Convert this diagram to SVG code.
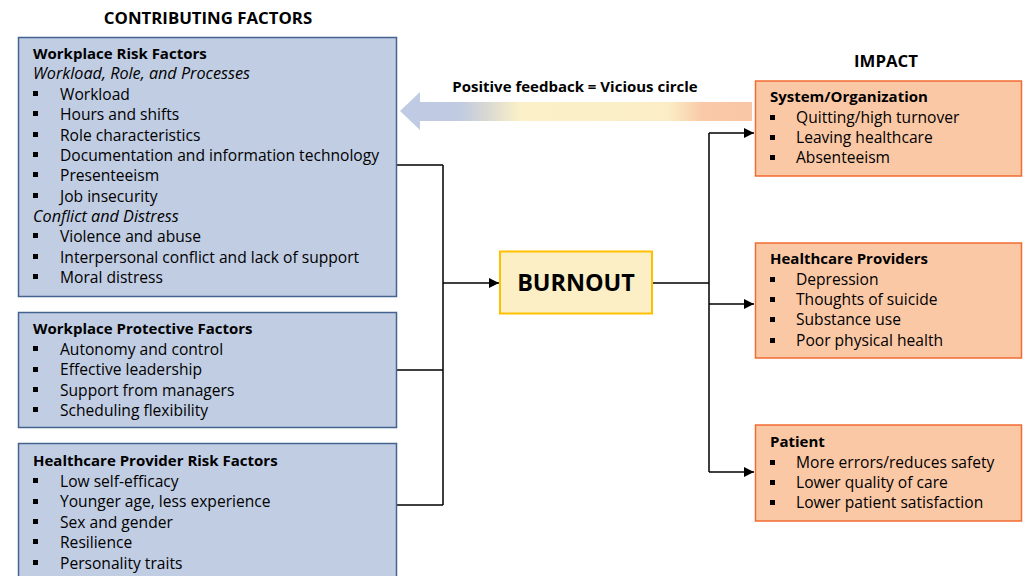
<svg xmlns="http://www.w3.org/2000/svg" width="1026" height="576" viewBox="0 0 1026 576">
  <style>
    text { font-family: "Open Sans", "Liberation Sans", sans-serif; fill: #000; }
    .hdr { font-size: 16.8px; font-weight: bold; }
    .ttl { font-size: 15px; font-weight: bold; }
    .itm { font-size: 15.6px; }
    .sub { font-size: 16.2px; font-style: italic; }
    .factor { fill: #C0CDE3; stroke: #44648F; stroke-width: 1.5; }
    .impact { fill: #FBC8A6; stroke: #F26B32; stroke-width: 1.5; }
    .bul { fill: #000; }
    .wire { fill: none; stroke: #000; stroke-width: 1.5; }
  </style>
  <defs>
    <marker id="arrow" viewBox="0 0 10 10" refX="10" refY="5" markerWidth="10" markerHeight="10" markerUnits="userSpaceOnUse" orient="auto">
      <path d="M0,0 L10,5 L0,10 z" fill="#000"/>
    </marker>
    <linearGradient id="loopGrad" gradientUnits="userSpaceOnUse" x1="400" y1="0" x2="752" y2="0">
      <stop offset="0" stop-color="#BFCBE4"/>
      <stop offset="0.17" stop-color="#C0CBE2"/>
      <stop offset="0.25" stop-color="#DAD9D2"/>
      <stop offset="0.34" stop-color="#FBF0C8"/>
      <stop offset="0.76" stop-color="#FBEEC6"/>
      <stop offset="0.86" stop-color="#F9C9A8"/>
      <stop offset="1" stop-color="#F9C6A6"/>
    </linearGradient>
  </defs>

  <!-- column headings -->
  <text class="hdr" x="208" y="24" text-anchor="middle">CONTRIBUTING FACTORS</text>
  <text class="hdr" x="886" y="67" text-anchor="middle">IMPACT</text>

  <!-- feedback loop arrow -->
  <g id="feedback">
    <path d="M752,102 L420,102 L420,92 L400,111 L420,130 L420,121 L752,121 z" fill="url(#loopGrad)"/>
    <text class="ttl" x="575" y="92" text-anchor="middle">Positive feedback = Vicious circle</text>
  </g>

  <!-- connectors -->
  <g id="connectors">
    <path class="wire" d="M397,165 H443 M397,370 H443 M397,505 H443 M443,165 V505"/>
    <path class="wire" d="M443,283 H499" marker-end="url(#arrow)"/>
    <path class="wire" d="M652,283 H709 M709,133 V472"/>
    <path class="wire" d="M709,133 H754" marker-end="url(#arrow)"/>
    <path class="wire" d="M709,304 H754" marker-end="url(#arrow)"/>
    <path class="wire" d="M709,472 H754" marker-end="url(#arrow)"/>
  </g>

  <!-- contributing factor boxes -->
  <g id="workplace-risk">
    <rect class="factor" x="18.5" y="37.5" width="378" height="259"/>
    <text class="ttl" x="33" y="59">Workplace Risk Factors</text>
    <text class="sub" x="33" y="79">Workload, Role, and Processes</text>
    <g class="bul">
      <rect x="33" y="91" width="5" height="5"/>
      <rect x="33" y="111" width="5" height="5"/>
      <rect x="33" y="132" width="5" height="5"/>
      <rect x="33" y="152" width="5" height="5"/>
      <rect x="33" y="172" width="5" height="5"/>
      <rect x="33" y="193" width="5" height="5"/>
      <rect x="33" y="233" width="5" height="5"/>
      <rect x="33" y="254" width="5" height="5"/>
      <rect x="33" y="274" width="5" height="5"/>
    </g>
    <text class="itm" x="60" y="100">Workload</text>
    <text class="itm" x="60" y="120">Hours and shifts</text>
    <text class="itm" x="60" y="141">Role characteristics</text>
    <text class="itm" x="60" y="161">Documentation and information technology</text>
    <text class="itm" x="60" y="181">Presenteeism</text>
    <text class="itm" x="60" y="202">Job insecurity</text>
    <text class="sub" x="33" y="222">Conflict and Distress</text>
    <text class="itm" x="60" y="242">Violence and abuse</text>
    <text class="itm" x="60" y="263">Interpersonal conflict and lack of support</text>
    <text class="itm" x="60" y="283">Moral distress</text>
  </g>

  <g id="workplace-protective">
    <rect class="factor" x="18.5" y="312.5" width="378" height="115"/>
    <text class="ttl" x="33" y="334">Workplace Protective Factors</text>
    <g class="bul">
      <rect x="33" y="346" width="5" height="5"/>
      <rect x="33" y="367" width="5" height="5"/>
      <rect x="33" y="387" width="5" height="5"/>
      <rect x="33" y="407" width="5" height="5"/>
    </g>
    <text class="itm" x="60" y="355">Autonomy and control</text>
    <text class="itm" x="60" y="375">Effective leadership</text>
    <text class="itm" x="60" y="396">Support from managers</text>
    <text class="itm" x="60" y="416">Scheduling flexibility</text>
  </g>

  <g id="provider-risk">
    <rect class="factor" x="18.5" y="443.5" width="378" height="140"/>
    <text class="ttl" x="33" y="466">Healthcare Provider Risk Factors</text>
    <g class="bul">
      <rect x="33" y="478" width="5" height="5"/>
      <rect x="33" y="499" width="5" height="5"/>
      <rect x="33" y="519" width="5" height="5"/>
      <rect x="33" y="539" width="5" height="5"/>
      <rect x="33" y="560" width="5" height="5"/>
    </g>
    <text class="itm" x="60" y="487">Low self-efficacy</text>
    <text class="itm" x="60" y="507">Younger age, less experience</text>
    <text class="itm" x="60" y="528">Sex and gender</text>
    <text class="itm" x="60" y="548">Resilience</text>
    <text class="itm" x="60" y="569">Personality traits</text>
  </g>

  <!-- central node -->
  <g id="burnout">
    <rect x="500" y="251.5" width="152" height="62" fill="#FCEFC6" stroke="#FFC000" stroke-width="2"/>
    <text x="576" y="291" text-anchor="middle" style="font-size:23.4px;font-weight:bold">BURNOUT</text>
  </g>

  <!-- impact boxes -->
  <g id="system-organization">
    <rect class="impact" x="755.5" y="81" width="266" height="95"/>
    <text class="ttl" x="770" y="102">System/Organization</text>
    <g class="bul">
      <rect x="770" y="115" width="5" height="5"/>
      <rect x="770" y="135" width="5" height="5"/>
      <rect x="770" y="155" width="5" height="5"/>
    </g>
    <text class="itm" x="796" y="123">Quitting/high turnover</text>
    <text class="itm" x="796" y="143">Leaving healthcare</text>
    <text class="itm" x="796" y="163">Absenteeism</text>
  </g>

  <g id="healthcare-providers">
    <rect class="impact" x="755.5" y="243" width="266" height="115"/>
    <text class="ttl" x="770" y="264">Healthcare Providers</text>
    <g class="bul">
      <rect x="770" y="277" width="5" height="5"/>
      <rect x="770" y="297" width="5" height="5"/>
      <rect x="770" y="317" width="5" height="5"/>
      <rect x="770" y="338" width="5" height="5"/>
    </g>
    <text class="itm" x="796" y="285">Depression</text>
    <text class="itm" x="796" y="305">Thoughts of suicide</text>
    <text class="itm" x="796" y="325">Substance use</text>
    <text class="itm" x="796" y="346">Poor physical health</text>
  </g>

  <g id="patient">
    <rect class="impact" x="755.5" y="425" width="266" height="96"/>
    <text class="ttl" x="770" y="447">Patient</text>
    <g class="bul">
      <rect x="770" y="460" width="5" height="5"/>
      <rect x="770" y="480" width="5" height="5"/>
      <rect x="770" y="500" width="5" height="5"/>
    </g>
    <text class="itm" x="796" y="468">More errors/reduces safety</text>
    <text class="itm" x="796" y="488">Lower quality of care</text>
    <text class="itm" x="796" y="508">Lower patient satisfaction</text>
  </g>
</svg>
